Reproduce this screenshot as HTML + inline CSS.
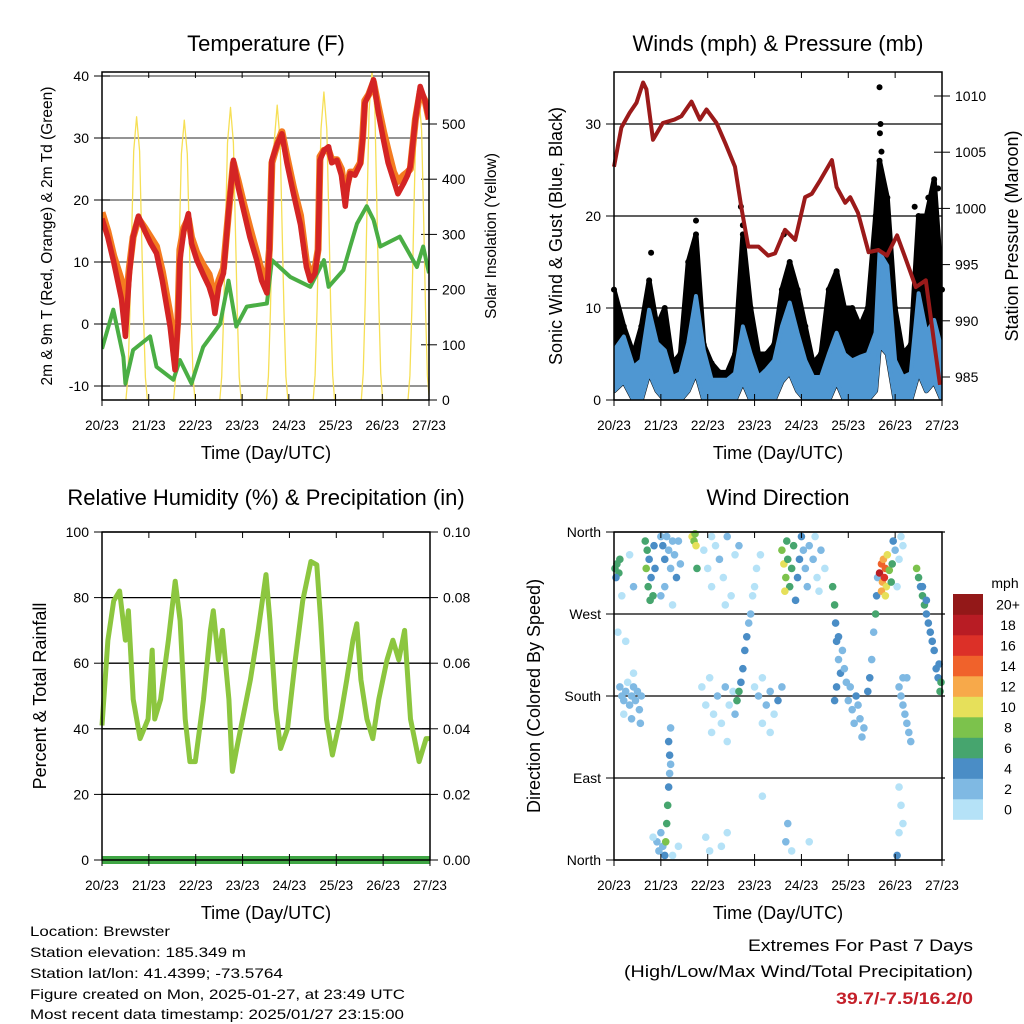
<!DOCTYPE html>
<html><head><meta charset="utf-8"><style>
html,body{margin:0;padding:0;background:#fff}
svg{display:block;font-family:"Liberation Sans",sans-serif}
</style></head><body>
<svg id="s" width="1024" height="1024" viewBox="0 0 1024 1024">
<rect width="1024" height="1024" fill="#fff"/>
<g font-size="22" text-anchor="middle" fill="#000">
<text x="266" y="51">Temperature (F)</text>
<text x="778" y="51">Winds (mph) &amp; Pressure (mb)</text>
<text x="266" y="505">Relative Humidity (%) &amp; Precipitation (in)</text>
<text x="778" y="505">Wind Direction</text>
</g>
<g font-size="18" text-anchor="middle">
<text x="266" y="459">Time (Day/UTC)</text>
<text x="778" y="459">Time (Day/UTC)</text>
<text x="266" y="919">Time (Day/UTC)</text>
<text x="778" y="919">Time (Day/UTC)</text>
<text transform="translate(52,236) rotate(-90)" font-size="15.5">2m &amp; 9m T (Red, Orange) &amp; 2m Td (Green)</text>
<text transform="translate(496,236) rotate(-90)" font-size="15.5">Solar Insolation (Yellow)</text>
<text transform="translate(562,236) rotate(-90)">Sonic Wind &amp; Gust (Blue, Black)</text>
<text transform="translate(1018,236) rotate(-90)">Station Pressure (Maroon)</text>
<text transform="translate(46,696) rotate(-90)">Percent &amp; Total Rainfall</text>
<text transform="translate(540,696) rotate(-90)">Direction (Colored By Speed)</text>
</g>
<g font-size="14">
<text x="30" y="936" textLength="140" lengthAdjust="spacingAndGlyphs">Location: Brewster</text>
<text x="30" y="957" textLength="216" lengthAdjust="spacingAndGlyphs">Station elevation: 185.349 m</text>
<text x="30" y="978" textLength="253" lengthAdjust="spacingAndGlyphs">Station lat/lon: 41.4399; -73.5764</text>
<text x="30" y="999" textLength="375" lengthAdjust="spacingAndGlyphs">Figure created on Mon, 2025-01-27, at 23:49 UTC</text>
<text x="30" y="1019" textLength="374" lengthAdjust="spacingAndGlyphs">Most recent data timestamp: 2025/01/27 23:15:00</text>
</g>
<g font-size="17">
<text x="748" y="951" textLength="225" lengthAdjust="spacingAndGlyphs">Extremes For Past 7 Days</text>
<text x="624" y="977" textLength="349" lengthAdjust="spacingAndGlyphs">(High/Low/Max Wind/Total Precipitation)</text>
<text x="836" y="1004" textLength="137" lengthAdjust="spacingAndGlyphs" font-weight="bold" fill="#c4202a">39.7/-7.5/16.2/0</text>
</g>
<g id="charts"></g>
</svg>
<script>
// ---------- data ----------
const dayLabels = ["20/23","21/23","22/23","23/23","24/23","25/23","26/23","27/23"];
const tempTicks = [-10,0,10,20,30,40];
const solarTicks = [0,100,200,300,400,500];
const windTicks = [0,10,20,30];
const presTicks = [985,990,995,1000,1005,1010];
const rhTicks = [0,20,40,60,80,100];
const precipTicks = ["0.00","0.02","0.04","0.06","0.08","0.10"];
const dirLabels = ["North","East","South","West","North"];
const dirTicks = [0,90,180,270,360];
const speedLabels = ["0","2","4","6","8","10","12","14","16","18","20+"];
const speedColors = ["#b5e2f7","#7fb9e3","#4a8dc6","#46a56e","#7cc24c","#e6e05a","#f7a94a","#f0622b","#dc3028","#b81c24","#931818"];

const tempT = [0,3,6,8,10,12,14,16,18.7,22,25,28,31,35,37.5,39,40,42,44.4,46,48.7,52,55,57,58,60,62.4,65,67.5,70,72.7,76,79.5,82,84.7,86,87.3,90,92.4,95,98.4,102,105,107,109.5,111,112,114,116.4,118,120.7,123,125,126,127.5,130,132.7,134,135,137,139.5,142,144.7,147,149.8,152,155,157,158.4,161,163.5,166,168];
const temp2m = [17,14,10,7,4,-2,8,14,17.4,15,13,11.4,7,-0.4,-7.4,0,10.3,15,17.8,13,10.3,8,6,4,1.7,6,8.2,18,26.4,22,18.4,14,10.3,7,5,12,26.4,29,30.7,26,21,16,9.2,7,8.2,12,26.4,28,28.6,26,26.4,24,19,22,24.3,24,25.8,30,35.6,37,39.4,34,29.6,26,23.2,21,22.7,24,25.4,33,38.3,36,33];
const temp9m = [18,15,11,9,7,2,9,14,17,15.5,14,12.5,8.5,1.5,-6,1,12,15.5,17,14,11.5,9.5,8,5.5,3.5,7,9,18,26,23,19.5,15.5,11.5,8.5,7,12,26,29,31,27,22,17.5,10,8.5,9,12,27,28,28,26.5,26.5,25,20.5,22.5,24.5,24.5,26,30.5,36,37,39,35,31,28,24.5,23,24,24.5,25,33,37.5,36,33];
const dewT = [0,5.8,11,12,16,24.7,28,36.7,40,46,52,60.7,65,69,74.4,84.7,87.3,96.7,107,114,116.4,124,127.5,131,136,139.5,143,153,161.8,165,168];
const dewV = [-4,2.3,-5.3,-9.6,-4.2,-2,-6.9,-9,-5.8,-9.6,-3.7,0,7,-0.4,2.8,3.3,10.3,7.6,6,10.3,6,8.7,12.5,16.2,19,16.8,12.5,14.1,9.2,12.5,8.2];
const solarT = [12.3,13.3,14.3,15.3,16.3,17.8,19.3,20.3,21.3,22.3,23.3,
36.8,37.8,38.8,39.8,40.8,42.3,43.8,44.8,45.8,46.8,47.8,
60.5,61.5,62.5,63.5,64.5,66,67.5,68.5,69.5,70.5,71.5,
84.5,85.5,86.5,87.5,88.5,90,91.5,92.5,93.5,94.5,95.5,
108.5,109.5,110.5,111.5,112.5,114,115.5,116.5,117.5,118.5,119.5,
133.2,134.2,135.2,136.2,137.2,138.7,140.2,141.2,142.2,143.2,144.2,
157.2,158.2,159.2,160.2,161.2,162.7,164.2,165.2,166.2,167.2,168.2];
const solarV = [0,41,154,308,451,513,451,308,154,41,0,
0,41,152,304,446,507,446,304,152,41,0,
0,42,159,318,466,530,466,318,159,42,0,
0,43,160,320,470,534,470,320,160,43,0,
0,45,167,335,491,558,491,335,167,45,0,
0,48,178,357,524,595,524,357,178,48,0,
0,44,167,334,489,556,489,334,167,44,0];

const presT = [0,3.8,8,11.5,14.9,16.6,20,25,31,34.5,39.7,44,47.4,52.5,57,62,65.4,68.8,74,79,82.5,87.6,92.8,97.9,101.3,105.6,111.6,114,118.4,121,125,130.4,135.5,139.8,145,149,154.6,159.7,164,167];
const presV = [1003.7,1007.2,1008.5,1009.4,1011.2,1010.6,1006.1,1007.6,1007.9,1008.2,1009.5,1007.9,1008.8,1007.6,1005.8,1003.7,999.9,996.6,996.6,995.8,996,998.1,997.2,1001,1001.3,1002.5,1004.3,1001.9,1000.5,1001,999.6,996.1,996.3,995.8,997.6,995.7,993,993.6,988,984.3];
const windT = [0,5,10,14,18,22,26,30,34,38,42,46,50,54,58,62,66,70,74,78,82,86,90,94,98,102,106,110,114,118,122,126,130,134,136,140,144,148,152,156,160,164,168];
const windLo = [1,2,0,0,3,1,0,0,0,1,3,0,0,0,0,0,2,0,0,0,0,2,3,1,0,0,0,0,2,0,0,0,0,1,6,5,0,0,0,3,1,2,0];
const windHi = [5.4,6.9,3.6,4.3,9.8,6.2,5.4,2.5,2.9,6.2,11.3,5.4,2.2,2.2,2.2,2.9,8,5,2.5,3.3,4.3,8,10.6,7.3,4.3,2.5,2.5,5,7.3,5,4.3,4.7,5,7.3,16,14.6,4.3,2.5,2.9,11.6,7.3,8.7,5.4];
const gustHi = [12,8,5,8,13,8,10,4,5,15,18,6,4,3,3,5,18,10,5,5,6,12,15,12,8,4,5,12,14,10,10,8,10,20,26,22,10,5,6,20,20,24,12];
const spikeT = [136,136.5,136.2,137,65,66,161,163,166,154,156,87,19,42];
const spikeV = [34,30,29,27,21,19,22,19,23,21,17,18,16,19.5];

const rhT = [0,3,6,9,12,13.5,16,19.5,23.6,25.7,27,30,34,37.5,40,42.6,45,47.8,52,55.5,57,59.6,61.7,65,66.8,69,72,76,80,84,86,89,91.5,95,99,102.8,107,110,112,115,118,122,125.4,128.5,130.5,132.6,135.7,138.7,141.8,146,149,152,155,158,162.4,166,168];
const rhV = [41,67,79,82,67,76,49,37,43,64,43,49,67,85,73,43,30,30,49,70,76,61,70,49,27,34,43,55,70,87,73,46,34,40,61,79,91,90,73,43,32,43,55,67,72,55,43,37,49,61,67,61,70,43,30,37,37];
const precipT = [0,168];
const precipV = [0,0];

const dirT = [0.5,1.5,2.5,3,1,2,4,6,8,10,
16,17,16.5,17.5,18,19,20,21,18.5,20.5,
24,25,26,27,28,29,30,31,32,33,34,26,24,30,
40,41,42,41.5,42.5,
46,48,50,52,54,56,58,60,62,64,50,57,
3,4,5,6,7,8,9,10,11,12,13,14,13.5,5,9,10,
45,47,49,51,53,55,57,59,61,63,50,58,62,
63,64,65,66,67,68,69,70,71,72,73,75,
72,74,76,78,80,82,84,86,76,80,
86,87,88,89,90,91,92,93,94,87.5,88.5,95,
96,97,98,100,102,104,106,108,99,103,105,
112,113,113.5,114,115,116,114,113,117,118,115,119,
120,122,124,126,128,125,130,131,132,127,123,121,
133,134,134.5,135,
136,137,137.5,138,138.5,139,139.5,140,141,142,142.5,137,139,
143,144,146,148,145,147,
146,147,148,149,150,151,152,150,148,
146,147,148,146,145,
155,156,157,158,159,160,161,162,163,164,165,166,167,167.5,166.5,158,160,
22,23,24,25,26,26.5,27,27.5,28,28.5,29,20,30,33,
28,28.5,29,
47,49,55,58,76,88,89,91,100];
const dirV = [320,325,315,330,310,250,290,240,335,300,
350,340,320,300,330,310,290,320,285,345,
355,345,330,355,340,320,350,335,310,350,325,300,290,280,
355,350,345,358,320,
340,320,300,345,330,310,355,290,335,345,355,280,
190,180,175,185,195,170,180,190,175,185,165,180,150,160,155,205,
190,170,200,160,180,150,190,170,185,175,140,130,160,
175,185,195,210,230,245,260,270,290,300,320,335,
190,180,200,170,185,160,175,190,150,140,
340,325,310,330,300,320,345,285,310,295,350,330,
355,340,320,345,330,310,340,320,300,355,295,
300,280,260,240,220,205,190,175,230,210,245,195,
175,165,180,155,145,170,185,200,220,135,150,190,
250,270,290,310,
315,325,305,330,310,320,300,335,318,305,325,295,290,
350,340,330,345,300,355,
190,180,170,160,150,140,130,200,200,
80,60,40,30,5,
320,310,300,290,280,270,260,250,240,230,210,200,185,195,215,300,285,
20,10,30,15,5,20,40,60,80,95,105,25,5,15,
130,115,145,
25,10,15,30,70,20,40,10,20];
const dirS = [7,6,7,6,5,1,1,1,1,2,
7,6,8,6,5,4,6,4,6,4,
3,4,4,2,3,2,3,2,4,2,2,2,2,1,
10,9,10,8,6,
1,1,1,1,2,1,2,1,1,2,1,1,
2,2,2,2,1,2,2,2,3,2,2,3,2,1,2,1,
1,1,1,1,2,1,2,1,1,2,1,1,3,
6,6,4,4,4,4,3,3,1,1,1,1,
1,2,1,2,3,1,4,2,1,1,
9,10,8,7,7,6,7,5,4,10,6,4,
4,3,2,2,2,1,2,1,2,1,1,
6,6,4,4,3,4,4,4,3,3,4,2,
3,3,4,2,2,3,4,4,3,2,2,2,
3,6,4,3,
18,15,12,13,16,14,11,10,8,7,6,12,10,
4,2,1,1,1,1,
3,2,2,2,2,2,2,2,3,
1,1,1,1,4,
8,7,4,6,6,4,4,4,5,4,4,5,6,7,4,5,4,
2,2,2,3,4,8,6,6,4,3,3,1,1,1,
4,4,3,
1,1,1,1,1,3,2,1,1];

// ---------- drawing ----------
const NS = "http://www.w3.org/2000/svg";
const root = document.getElementById("charts");
function mk(tag, parent) { const e = document.createElementNS(NS, tag); (parent || root).appendChild(e); return e; }
function attrs(e, o) { for (const k in o) e.setAttribute(k, o[k]); return e; }
function linear(d0, d1, r0, r1) { return v => r0 + (v - d0) / (d1 - d0) * (r1 - r0); }

function panel(name, x0, x1, y0, y1) {
  const g = mk("g");
  
  
  return { g, x0, x1, y0, y1, xs: linear(0, 168, x0, x1) };
}
function frame(p) {
  const r = attrs(mk("rect", p.g), { x: p.x0, y: p.y0, width: p.x1 - p.x0, height: p.y1 - p.y0, fill: "none", stroke: "#000", "stroke-width": 1.5 });
  
  
}
function xAxis(p) {
  const g = mk("g", p.g);
  
  
  dayLabels.forEach((lab, i) => {
    const x = p.xs(i * 24);
    attrs(mk("line", g), { x1: x, x2: x, y1: p.y1 - 6, y2: p.y1 + 6, stroke: "#000" });
    attrs(mk("line", g), { x1: x, x2: x, y1: p.y0, y2: p.y0 + 6, stroke: "#000" });
    const t = attrs(mk("text", g), { x: x, y: p.y1 + 30, "font-size": 13.5, "text-anchor": "middle" });
    t.textContent = lab;
    
    
  });
}
function yTicks(p, ys, vals, labels, side, grid, gridColor) {
  const g = mk("g", p.g);
  
  
  vals.forEach((v, i) => {
    const y = ys(v);
    if (grid) attrs(mk("line", g), { x1: p.x0, x2: p.x1 + (grid === "ext" ? 3 : 0), y1: y, y2: y, stroke: gridColor || "#000", "stroke-width": 1.3 });
    const xa = side === "left" ? p.x0 : p.x1;
    attrs(mk("line", g), { x1: xa - 8, x2: xa + 8, y1: y, y2: y, stroke: "#000" });
    const t = attrs(mk("text", g), { x: side === "left" ? xa - 13 : xa + 13, y: y + 5, "font-size": 14, "text-anchor": side === "left" ? "end" : "start" });
    t.textContent = labels[i];
    
    
  });
}
function pathFrom(T, V, xs, ys) { return T.map((t, i) => (i ? "L" : "M") + xs(t).toFixed(1) + "," + ys(V[i]).toFixed(1)).join(""); }

// Panel 1: temperature
{
  const p = panel("temperature-panel", 102, 429, 72, 400);
  const yT = linear(0, 10, 324, 262);
  const yS = linear(0, 500, 400, 124);
  const cp = attrs(mk("clipPath", p.g), { id: "c1" });
  attrs(mk("rect", cp), { x: p.x0, y: p.y0, width: p.x1 - p.x0, height: p.y1 - p.y0 });
  yTicks(p, yT, tempTicks, tempTicks.map(String), "left", true, "#555");
  yTicks(p, yS, solarTicks, solarTicks.map(String), "right", false);
  const s = attrs(mk("path", p.g), { d: pathFrom(solarT, solarV, p.xs, yS), fill: "none", stroke: "#f6df55", "stroke-width": 1.3, "stroke-linejoin": "round", "clip-path": "url(#c1)" });
  
  
  const d = attrs(mk("path", p.g), { d: pathFrom(dewT, dewV, p.xs, yT), fill: "none", stroke: "#4aae44", "stroke-width": 4, "stroke-linejoin": "round", "clip-path": "url(#c1)" });
  
  
  const o = attrs(mk("path", p.g), { d: pathFrom(tempT, temp9m, p.xs, yT), fill: "none", stroke: "#f47b20", "stroke-width": 7, "stroke-linejoin": "round", "clip-path": "url(#c1)" });
  
  
  const r = attrs(mk("path", p.g), { d: pathFrom(tempT, temp2m, p.xs, yT), fill: "none", stroke: "#d42424", "stroke-width": 5.5, "stroke-linejoin": "round", "clip-path": "url(#c1)" });
  
  
  xAxis(p); frame(p);
}

// Panel 2: winds & pressure
{
  const p = panel("winds-panel", 614, 942, 72, 400);
  const yW = linear(0, 10, 400, 308);
  const yP = linear(985, 1010, 377, 96);
  const cp = attrs(mk("clipPath", p.g), { id: "c2" });
  attrs(mk("rect", cp), { x: p.x0, y: p.y0, width: p.x1 - p.x0, height: p.y1 - p.y0 });
  yTicks(p, yW, windTicks, windTicks.map(String), "left", true, "#000");
  yTicks(p, yP, presTicks, presTicks.map(String), "right", false);
  const gustD = pathFrom(windT, gustHi, p.xs, yW) + windT.slice().reverse().map((t, i) => "L" + p.xs(t).toFixed(1) + "," + yW(windLo[windT.length - 1 - i]).toFixed(1)).join("") + "Z";
  const gb = attrs(mk("path", p.g), { d: gustD, fill: "#000", stroke: "#000", "stroke-width": 5, "stroke-linejoin": "round", "clip-path": "url(#c2)" });
  
  
  windT.forEach((t, i) => {
    const c = attrs(mk("circle", p.g), { cx: p.xs(t), cy: yW(gustHi[i]), r: 3, fill: "#000" });
    
    
  });
  spikeT.forEach((t, i) => {
    const c = attrs(mk("circle", p.g), { cx: p.xs(t), cy: yW(spikeV[i]), r: 3, fill: "#000" });
    
    
  });
  const windD = pathFrom(windT, windHi, p.xs, yW) + windT.slice().reverse().map((t, i) => "L" + p.xs(t).toFixed(1) + "," + yW(windLo[windT.length - 1 - i]).toFixed(1)).join("") + "Z";
  const wb = attrs(mk("path", p.g), { d: windD, fill: "#4f97d2", stroke: "#4f97d2", "stroke-width": 4, "stroke-linejoin": "round", "clip-path": "url(#c2)" });
  
  
  const pl = attrs(mk("path", p.g), { d: pathFrom(presT, presV, p.xs, yP), fill: "none", stroke: "#9b1a1a", "stroke-width": 4, "stroke-linejoin": "round" });
  
  
  xAxis(p); frame(p);
}

// Panel 3: RH & precip
{
  const p = panel("humidity-panel", 102, 430, 532, 860);
  const yR = linear(0, 100, 860, 532);
  const yPr = linear(0, 0.1, 860, 532);
  yTicks(p, yR, rhTicks, rhTicks.map(String), "left", true, "#000");
  yTicks(p, yPr, precipTicks.map(Number), precipTicks, "right", false);
  const rl = attrs(mk("path", p.g), { d: pathFrom(rhT, rhV, p.xs, yR), fill: "none", stroke: "#8cc63f", "stroke-width": 5, "stroke-linejoin": "round" });
  
  
  const pr = attrs(mk("path", p.g), { d: pathFrom(precipT, precipV, p.xs, yPr), fill: "none", stroke: "#3fa644", "stroke-width": 8 });
  
  
  xAxis(p); frame(p);
}

// Panel 4: wind direction
{
  const p = panel("wind-direction-panel", 614, 942, 532, 860);
  const yD = linear(0, 360, 860, 532);
  yTicks(p, yD, dirTicks, dirLabels, "left", "ext", "#000");
  dirT.forEach((t, i) => {
    const bin = Math.min(10, Math.floor(dirS[i] / 2));
    const c = attrs(mk("circle", p.g), { cx: p.xs(t), cy: yD(dirV[i]), r: 3.8, fill: speedColors[bin] });
    
    
  });
  xAxis(p); frame(p);
  const lg = mk("g", p.g);
  
  
  const h = 20.5, top = 594;
  const unit = attrs(mk("text", lg), { x: 1005, y: 588, "font-size": 14, "text-anchor": "middle" });
  unit.textContent = "mph";
  
  
  speedLabels.forEach((lab, i) => {
    const k = speedLabels.length - 1 - i;
    const y = top + k * h;
    const r = attrs(mk("rect", lg), { x: 953, y: y, width: 30, height: h + 0.3, fill: speedColors[i] });
    
    
    const t = attrs(mk("text", lg), { x: 1008, y: y + h / 2 + 5, "font-size": 14, "text-anchor": "middle" });
    t.textContent = lab;
    
    
  });
}
</script>
</body></html>
